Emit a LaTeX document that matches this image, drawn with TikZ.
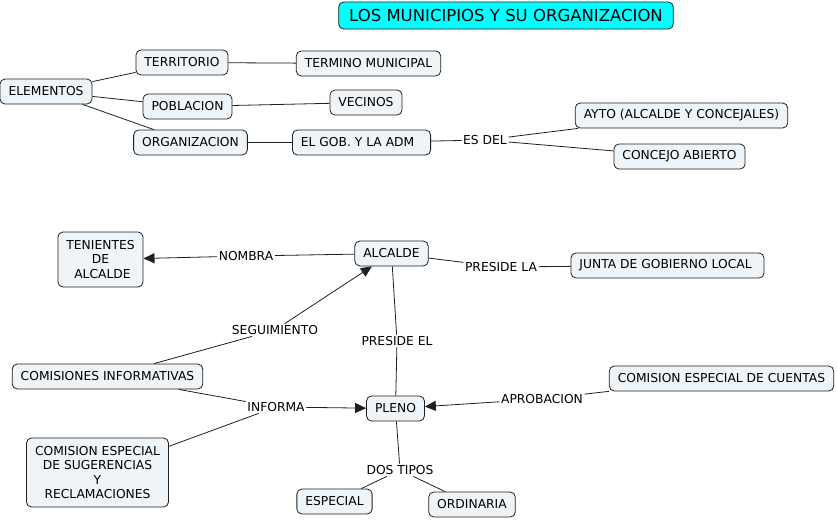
\documentclass[tikz,border=0pt]{standalone}
\usepackage{fontspec}
\setmainfont{DejaVu Sans}
\usetikzlibrary{arrows.meta}
\definecolor{boxfill}{HTML}{EEF4F7}
\definecolor{titlefill}{HTML}{00FFFF}
\definecolor{linec}{HTML}{202020}
\tikzset{
  concept/.style={draw=linec, line width=0.8pt, rounded corners=5pt, fill=boxfill,
    font=\fontsize{12.3}{14.2}\selectfont, inner xsep=8.5pt, minimum height=25pt, align=center},
  titlebox/.style={concept, fill=titlefill, font=\fontsize{16.5}{19}\selectfont, minimum height=27pt, inner xsep=10.5pt},
  lbl/.style={fill=white, inner sep=1.5pt, font=\fontsize{12.3}{14.2}\selectfont},
  link/.style={draw=linec, line width=0.8pt},
  arr/.style={link, -{Triangle[length=11pt,width=10pt]}}
}
\begin{document}
\begin{tikzpicture}[x=1pt,y=-1pt]
\useasboundingbox (0,0) rectangle (837,520);
% top part
\node[titlebox] (title) at (506,15.5) {LOS MUNICIPIOS Y SU ORGANIZACION};
\node[concept] (elem) at (46,91.5) {ELEMENTOS};
\node[concept] (terr) at (182,62.5) {TERRITORIO};
\node[concept] (term) at (368.5,63.5) {TERMINO MUNICIPAL};
\node[concept] (pobl) at (187.5,106.5) {POBLACION};
\node[concept] (veci) at (366,102.5) {VECINOS};
\node[concept] (orga) at (190.5,142.5) {ORGANIZACION};
\node[concept] (gob) at (361.5,142.5) {EL GOB. Y LA ADM\ \ };
\node[lbl] (esdel) at (485,140) {ES DEL};
\node[concept] (ayto) at (681.5,115.5) {AYTO (ALCALDE Y CONCEJALES)};
\node[concept] (conc) at (679.5,156.5) {CONCEJO ABIERTO};
% lower part
\node[concept, minimum height=55pt] (teni) at (100.5,259.5) {TENIENTES\\DE\\\ ALCALDE};
\node[concept] (alca) at (391.5,253.5) {ALCALDE};
\node[concept] (junta) at (667.5,265.5) {JUNTA DE GOBIERNO LOCAL\ };
\node[concept] (cinf) at (107.5,376.5) {COMISIONES INFORMATIVAS};
\node[concept] (pleno) at (395.5,408.5) {PLENO};
\node[concept] (cuen) at (721.5,378.5) {COMISION ESPECIAL DE CUENTAS};
\node[concept, minimum height=69pt] (suge) at (97.5,472.5) {COMISION ESPECIAL\\DE SUGERENCIAS\\Y\\RECLAMACIONES};
\node[concept] (espe) at (334.5,501.5) {ESPECIAL};
\node[concept] (ordi) at (472,504.5) {ORDINARIA};
% labels
\node[lbl] (nomb) at (246,256) {NOMBRA};
\node[lbl] (presla) at (501,267) {PRESIDE LA};
\node[lbl] (segu) at (275,330) {SEGUIMIENTO};
\node[lbl] (presel) at (397,341) {PRESIDE EL};
\node[lbl] (info) at (276,407) {INFORMA};
\node[lbl] (apro) at (542,399) {APROBACION};
\node[lbl] (dos) at (400,470) {DOS TIPOS};
% links top
\draw[link] (elem) -- (terr);
\draw[link] (elem) -- (pobl);
\draw[link] (elem) -- (orga);
\draw[link] (terr) -- (term);
\draw[link] (pobl) -- (veci);
\draw[link] (orga) -- (gob);
\draw[link] (gob) -- (esdel);
\draw[link] (esdel) -- (ayto);
\draw[link] (esdel) -- (conc);
% links lower
\draw[link] (alca) -- (nomb);
\draw[arr] (nomb) -- (teni);
\draw[link] (alca) -- (presla);
\draw[link] (presla) -- (junta);
\draw[link] (alca) -- (presel);
\draw[link] (presel) -- (pleno);
\draw[link] (cinf) -- (segu);
\draw[arr] (segu) -- (alca);
\draw[link] (cinf) -- (info);
\draw[link] (suge) -- (info);
\draw[arr] (info) -- (pleno);
\draw[link] (cuen) -- (apro);
\draw[arr] (apro) -- (pleno);
\draw[link] (pleno) -- (dos);
\draw[link] (dos) -- (espe);
\draw[link] (dos) -- (ordi);
\end{tikzpicture}
\end{document}
